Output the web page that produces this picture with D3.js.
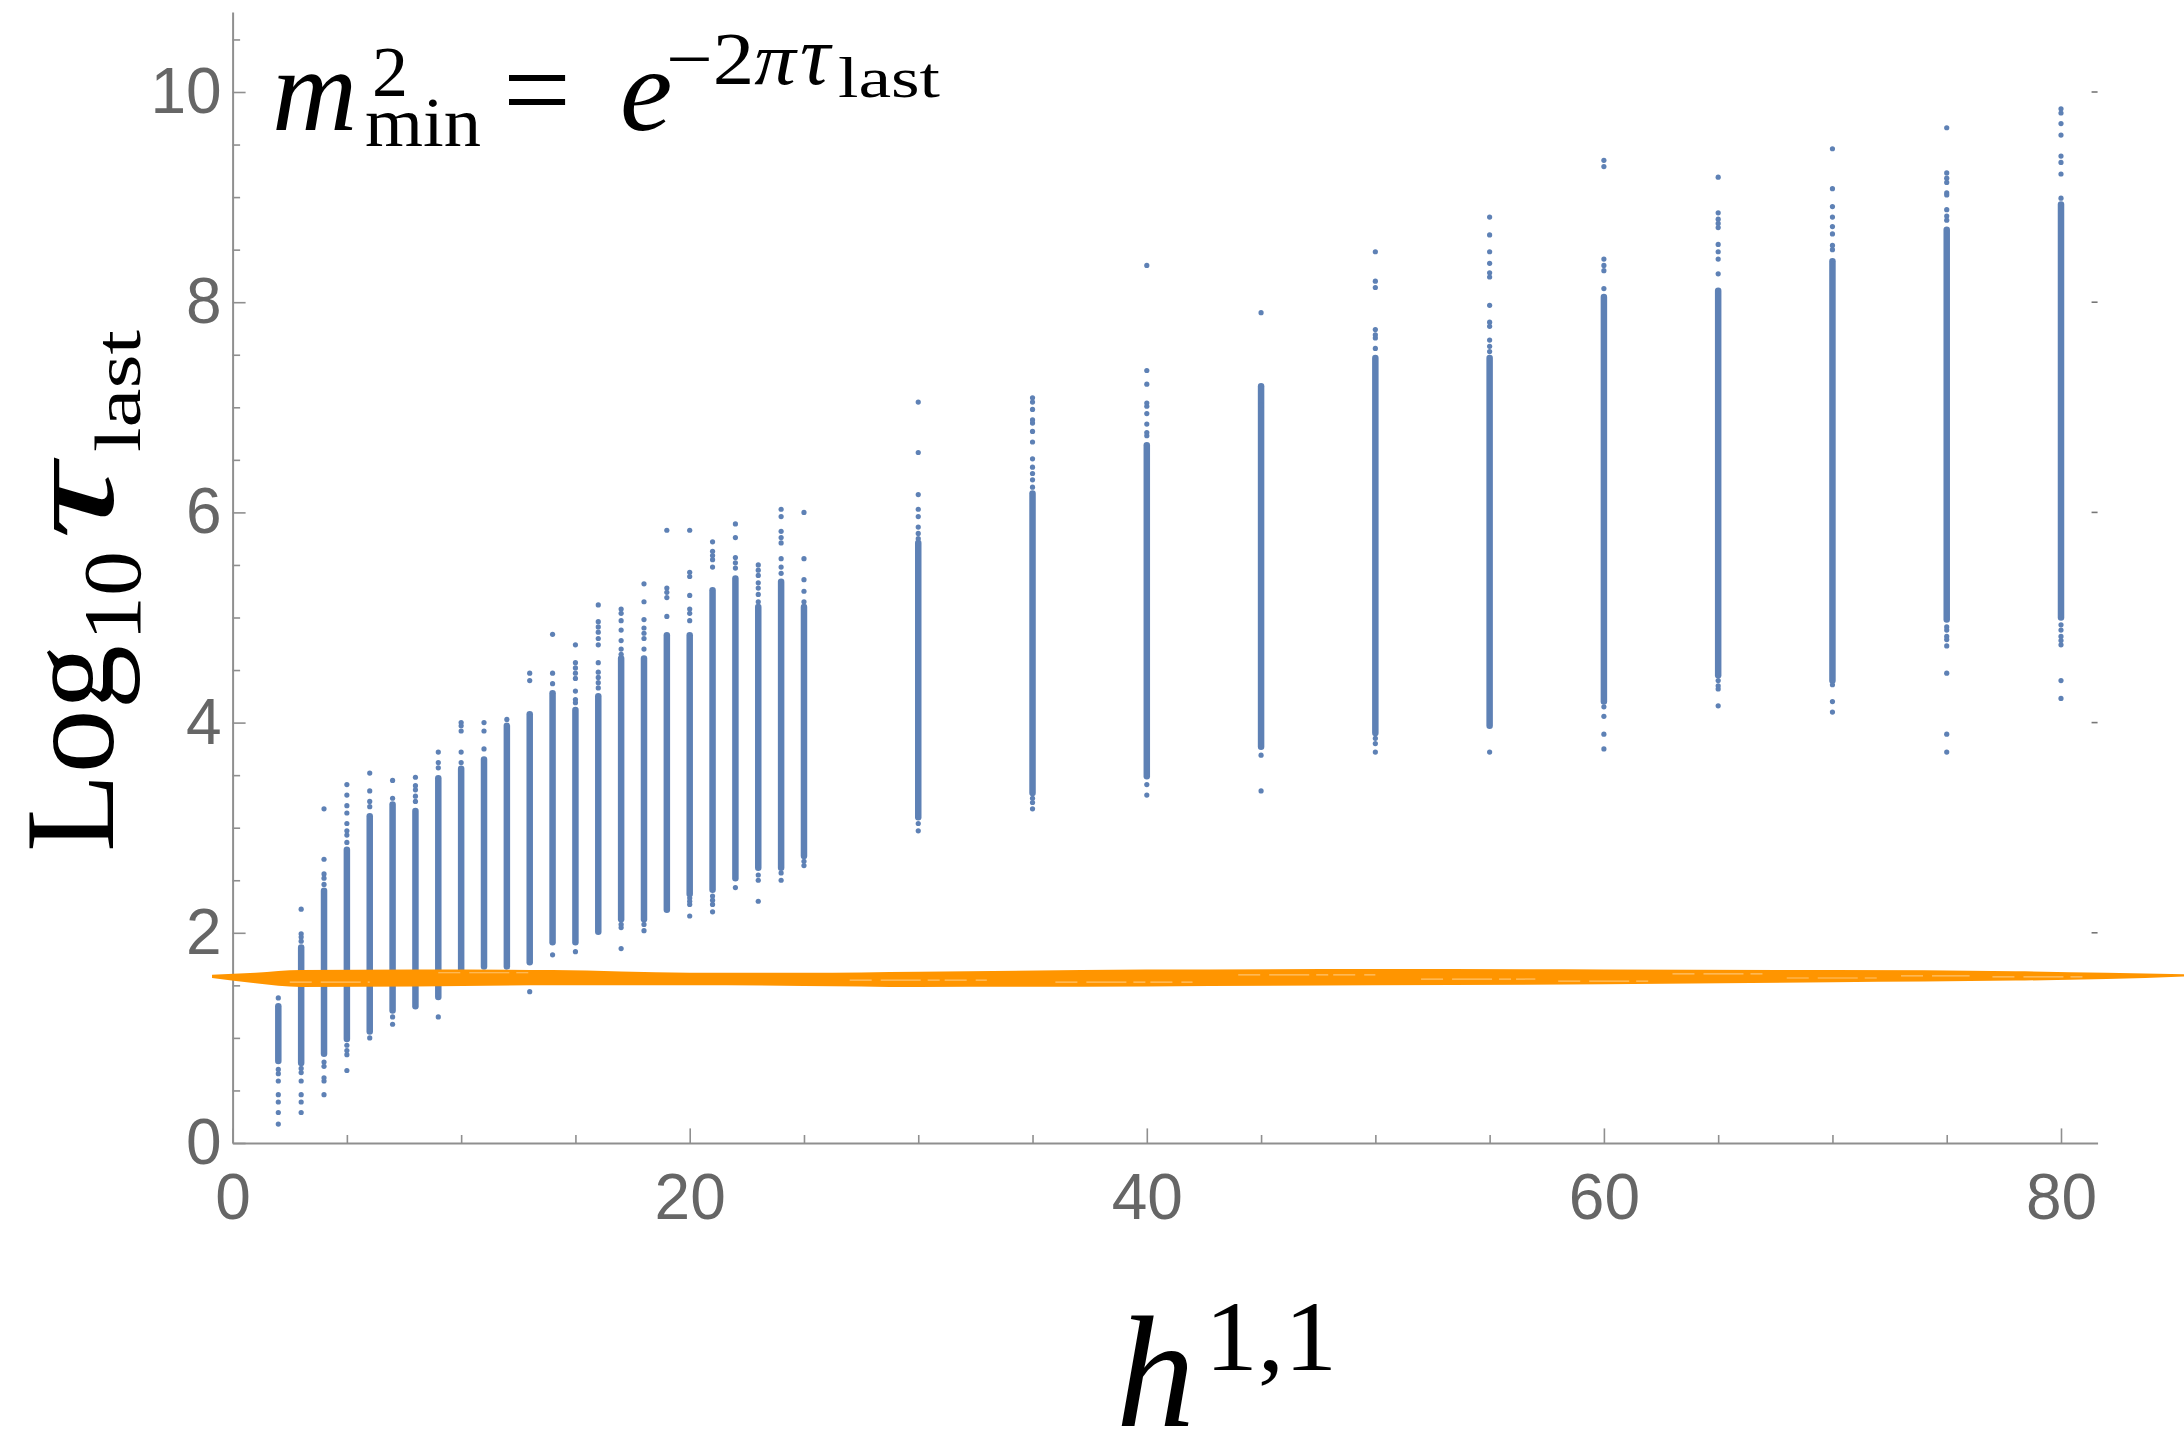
<!DOCTYPE html>
<html><head><meta charset="utf-8">
<script src="https://cdn.jsdelivr.net/npm/d3@7"></script>
<style>html,body{margin:0;padding:0;background:#fff;} svg{display:block;}</style>
</head><body>
<svg id="chart" width="2184" height="1437"></svg>
<script>
// ---- data ----
const h11 = [2,3,4,5,6,7,8,9,10,11,12,13,14,15,16,17,18,19,20,21,22,23,24,25,30,35,40,45,50,55,60,65,70,75,80];
const denseLow  = [0.78,0.76,0.85,0.99,1.06,1.26,1.30,1.39,1.64,1.68,1.68,1.72,1.91,1.91,2.01,2.13,2.13,2.22,2.37,2.41,2.52,2.62,2.62,2.73,3.10,3.33,3.49,3.77,3.90,3.97,4.20,4.45,4.40,4.98,5.00];
const denseHigh = [1.30,1.86,2.40,2.79,3.11,3.22,3.16,3.47,3.56,3.65,3.97,4.08,4.28,4.12,4.25,4.61,4.61,4.83,4.83,5.26,5.37,5.10,5.34,5.10,5.71,6.18,6.64,7.20,7.47,7.47,8.05,8.11,8.39,8.69,8.93];
const outliers = [
  [1.38,0.70,0.66,0.59,0.46,0.39,0.29,0.18],
  [2.225,1.99,1.96,1.92,0.71,0.67,0.59,0.46,0.39,0.29],
  [3.18,2.70,2.56,2.52,2.46,0.77,0.73,0.62,0.59,0.46],
  [3.41,3.31,3.21,3.14,3.04,2.97,2.93,2.86,0.93,0.88,0.84,0.69],
  [3.52,3.35,3.25,3.20,1.00],
  [3.45,3.28,1.20,1.13],
  [3.48,3.40,3.36,3.30,3.25],
  [3.72,3.62,3.57,1.20],
  [4.00,3.97,3.92,3.72,3.62],
  [4.00,3.92,3.75],
  [4.03],
  [4.47,4.40,1.44],
  [4.84,4.47,4.37,1.79],
  [4.74,4.57,4.52,4.47,4.42,4.30,4.22,4.19,1.82],
  [5.12,4.96,4.91,4.86,4.80,4.74,4.57,4.48,4.43,4.38,4.33],
  [5.08,5.04,4.97,4.88,4.78,4.70,4.65,2.08,2.05,1.85],
  [5.32,5.15,4.98,4.90,4.85,4.80,4.70,2.08,2.02],
  [5.83,5.28,5.24,5.19,5.01],
  [5.83,5.43,5.39,5.21,5.08,5.04,4.97,2.33,2.30,2.27,2.16],
  [5.72,5.63,5.59,5.55,5.48,2.35,2.31,2.27,2.20],
  [5.89,5.76,5.57,5.52,5.47,2.43],
  [5.50,5.45,5.40,5.33,5.28,5.22,5.15,2.55,2.50,2.30],
  [6.03,5.96,5.82,5.76,5.71,5.56,5.48,5.42,2.57,2.50],
  [6.00,5.56,5.36,5.25,5.15,2.68,2.64],
  [7.05,6.57,6.17,6.03,5.96,5.86,5.80,5.75,3.04,2.97],
  [7.09,7.05,6.98,6.88,6.85,6.77,6.67,6.51,6.43,6.37,6.31,6.24,3.28,3.24,3.18],
  [8.35,7.35,7.22,7.04,7.01,6.94,6.84,6.76,6.73,3.41,3.31],
  [7.90,7.02,3.69,3.35],
  [8.48,8.20,8.14,7.74,7.69,7.66,7.56,3.85,3.80,3.72],
  [8.81,8.64,8.48,8.37,8.28,8.24,7.97,7.81,7.77,7.64,7.58,7.53,3.72],
  [9.35,9.29,8.41,8.35,8.30,8.13,4.15,4.06,3.89,3.75],
  [9.19,8.85,8.79,8.75,8.71,8.55,8.48,8.41,8.27,4.40,4.35,4.32,4.16],
  [9.46,9.08,8.91,8.81,8.72,8.65,8.54,8.50,4.36,4.20,4.10],
  [9.66,9.23,9.18,9.14,9.04,9.02,8.88,8.82,8.78,4.91,4.88,4.82,4.79,4.73,4.47,3.89,3.72],
  [9.84,9.80,9.70,9.59,9.39,9.33,9.22,8.99,4.93,4.88,4.82,4.78,4.74,4.40,4.23]
];
// hand-drawn orange band (upper / lower edge, data units)
const bandX      = [-0.9, 1.0,  3,    8,    14,    20,   25,   30,   40,   50,    60,   70,   78,   82,    85.4];
const bandTop    = [1.60, 1.62, 1.645,1.65, 1.645, 1.62, 1.62, 1.63, 1.65, 1.655, 1.65, 1.645,1.635,1.62,  1.605];
const bandBottom = [1.57, 1.52, 1.485,1.49, 1.50,  1.50, 1.495,1.485,1.49, 1.50,  1.51, 1.53, 1.545,1.56,  1.585];
// light streaks inside the band (x from, x to, level)
const streakFrom  = [2.5, 9, 27, 36, 44, 52, 58, 63, 68, 73, 77];
const streakTo    = [6,  13, 33, 42, 50, 57, 62, 67, 72, 76, 81];
const streakLevel = [1.53,1.62,1.55,1.53,1.60,1.56,1.54,1.61,1.57,1.59,1.58];
const xMajorTicks = [0,20,40,60,80];
const xMinorTicks = [5,10,15,25,30,35,45,50,55,65,70,75];
const yMajorTicks = [0,2,4,6,8,10];
const yMinorTicks = [0.5,1,1.5,2.5,3,3.5,4.5,5,5.5,6.5,7,7.5,8.5,9,9.5,10.5];

// ---- drawing ----
const svg = d3.select("#chart");
const x = d3.scaleLinear().domain([0, 81.6]).range([232.6, 232.6 + 81.6 * 22.855]);
const y = d3.scaleLinear().domain([0, 10.76]).range([1143, 1143 - 10.76 * 105.1]);

const axisColor = "#8f8f8f", labelColor = "#666666";
const tickFont = "'Liberation Sans', Arial, Helvetica, sans-serif";
const blue = "#5e81b5";

// columns
const cols = h11.map((h, i) => ({h, lo: denseLow[i], hi: denseHigh[i], pts: outliers[i]}));
const gPts = svg.append("g");
gPts.selectAll("line.dense").data(cols).join("line")
  .attr("class", "dense")
  .attr("x1", d => x(d.h)).attr("x2", d => x(d.h))
  .attr("y1", d => y(d.lo)).attr("y2", d => y(d.hi))
  .attr("stroke", blue).attr("stroke-width", 6.5).attr("stroke-linecap", "round");
gPts.selectAll("g.col").data(cols).join("g").attr("class", "col")
  .selectAll("circle").data(d => d.pts.map(v => ({h: d.h, v}))).join("circle")
  .attr("cx", d => x(d.h)).attr("cy", d => y(d.v)).attr("r", 2.6).attr("fill", blue);

// axes
const gx = svg.append("g").attr("transform", `translate(0,${y(0)})`);
gx.call(d3.axisBottom(x).tickValues(xMajorTicks).tickSizeInner(-14.6).tickSizeOuter(0).tickPadding(31).tickFormat(d3.format("d")));
gx.append("g").call(d3.axisBottom(x).tickValues(xMinorTicks).tickSizeInner(-8).tickSizeOuter(0).tickFormat(""))
  .select(".domain").remove();
const gy = svg.append("g").attr("transform", `translate(${x(0)},0)`);
gy.call(d3.axisLeft(y).tickValues(yMajorTicks).tickSizeInner(-13).tickSizeOuter(0).tickPadding(11).tickFormat(d3.format("d")));
gy.append("g").call(d3.axisLeft(y).tickValues(yMinorTicks).tickSizeInner(-7.5).tickSizeOuter(0).tickFormat(""))
  .select(".domain").remove();
svg.selectAll(".domain").attr("stroke", axisColor).attr("stroke-width", 2);
svg.selectAll(".tick line").attr("stroke", axisColor).attr("stroke-width", 1.6);
svg.selectAll(".tick text").attr("fill", labelColor).attr("font-family", tickFont).attr("font-size", 64);
// right-hand frame ticks
svg.append("g").selectAll("line").data(yMajorTicks.filter(v => v > 0)).join("line")
  .attr("x1", x(81.6) - 6).attr("x2", x(81.6)).attr("y1", d => y(d)).attr("y2", d => y(d))
  .attr("stroke", "#777").attr("stroke-width", 1.6);

// orange band (on top of points)
const band = bandX.map((bx, i) => ({x: bx, t: bandTop[i], b: bandBottom[i]}));
svg.append("path").datum(band)
  .attr("d", d3.area().x(d => x(d.x)).y0(d => y(d.b)).y1(d => y(d.t)).curve(d3.curveMonotoneX))
  .attr("fill", "#ff9500");
svg.append("g").selectAll("line").data(streakFrom.map((s, i) => ({s, e: streakTo[i], v: streakLevel[i]}))).join("line")
  .attr("x1", d => x(d.s)).attr("x2", d => x(d.e)).attr("y1", d => y(d.v)).attr("y2", d => y(d.v))
  .attr("stroke", "#ffc46e").attr("stroke-width", 1.2).attr("stroke-dasharray", "22 9 40 7 12 5");

// titles
const serif = "'Liberation Serif', 'Times New Roman', serif";
// formula
const f = svg.append("g").attr("font-family", serif).attr("fill", "#000");
f.append("text").attr("x", 272).attr("y", 130).attr("font-size", 118).attr("font-style", "italic").text("m");
f.append("text").attr("x", 372).attr("y", 96).attr("font-size", 72).text("2");
f.append("text").attr("x", 365).attr("y", 146).attr("font-size", 70).attr("textLength", 116).attr("lengthAdjust", "spacingAndGlyphs").text("min");
f.append("text").attr("x", 503).attr("y", 130).attr("font-size", 118).attr("textLength", 68).attr("lengthAdjust", "spacingAndGlyphs").text("=");
f.append("text").attr("x", 620).attr("y", 130).attr("font-size", 118).attr("font-style", "italic").text("e");
f.append("text").attr("x", 666).attr("y", 84).attr("font-size", 74).attr("textLength", 130).attr("lengthAdjust", "spacingAndGlyphs")
  .call(t => { t.append("tspan").text("\u22122"); t.append("tspan").attr("font-style", "italic").text("\u03c0"); });
f.append("text").attr("x", 800).attr("y", 84).attr("font-size", 84).attr("font-style", "italic").text("\u03c4");
f.append("text").attr("x", 838).attr("y", 97).attr("font-size", 56).attr("textLength", 102).attr("lengthAdjust", "spacingAndGlyphs").text("last");

// y-axis title (rotated)
const yt = svg.append("g").attr("transform", "translate(113,852) rotate(-90)").attr("font-family", serif).attr("fill", "#000");
yt.append("text").attr("x", 0).attr("y", 0).attr("font-size", 128).attr("textLength", 207).attr("lengthAdjust", "spacingAndGlyphs").text("Log");
yt.append("text").attr("x", 211).attr("y", 27).attr("font-size", 82).attr("textLength", 90).attr("lengthAdjust", "spacingAndGlyphs").text("10");
yt.append("text").attr("x", 312).attr("y", 0).attr("font-size", 126).attr("font-style", "italic").attr("textLength", 76).attr("lengthAdjust", "spacingAndGlyphs").text("\u03c4");
yt.append("text").attr("x", 400).attr("y", 27).attr("font-size", 66).attr("textLength", 122).attr("lengthAdjust", "spacingAndGlyphs").text("last");

// x-axis title
const xt = svg.append("g").attr("font-family", serif).attr("fill", "#000");
xt.append("text").attr("x", 1116).attr("y", 1426).attr("font-size", 158).attr("font-style", "italic").text("h");
xt.append("text").attr("x", 1205).attr("y", 1370).attr("font-size", 100).attr("textLength", 132).attr("lengthAdjust", "spacingAndGlyphs").text("1,1");
</script>
</body></html>
